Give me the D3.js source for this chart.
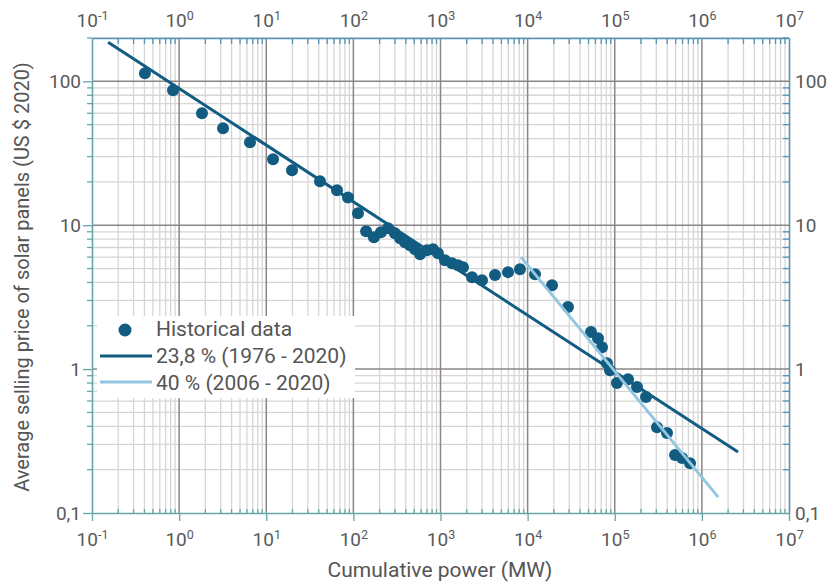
<!DOCTYPE html>
<html>
<head>
<meta charset="utf-8">
<script src="https://cdn.jsdelivr.net/npm/d3@7"></script>
<style>
body { margin: 0; background: #fff; }
svg { font-family: Roboto, "Noto Sans", sans-serif; }
</style>
</head>
<body>
<svg id="chart" width="832" height="583"></svg>
<script>
// historical data: cumulative power (MW) and price (US $ 2020 / W)
var power = [0.405, 0.851, 1.83, 3.19, 6.51, 11.96, 19.75, 41.4, 64.9, 86.7,
  113, 140, 172, 207, 250, 300, 343, 391, 447, 510,
  582, 700, 820, 935, 1125, 1355, 1588, 1812, 2300, 2995,
  4225, 5955, 8170, 12150, 19050, 29050, 53350, 64250, 71400, 81500,
  88200, 106000, 142000, 180000, 228500, 305500, 398000, 492000, 592000, 731000];
var price = [113.7, 86.6, 60.0, 47.2, 37.7, 28.7, 24.1, 20.2, 17.5, 15.6,
  12.1, 9.08, 8.26, 8.94, 9.53, 8.80, 8.12, 7.62, 7.26, 6.81,
  6.29, 6.70, 6.81, 6.39, 5.71, 5.45, 5.27, 5.11, 4.35, 4.15,
  4.50, 4.72, 4.95, 4.57, 3.83, 2.70, 1.81, 1.64, 1.42, 1.10,
  0.98, 0.80, 0.85, 0.75, 0.64, 0.395, 0.36, 0.253, 0.241, 0.222];

// fitted learning curves (end points)
var fitAllX = [0.153, 2.6e6];
var fitAllY = [187, 0.265];
var fitRecentX = [8400, 1.54e6];
var fitRecentY = [6.0, 0.129];

var legendLabels = ["Historical data", "23,8 % (1976 - 2020)", "40 % (2006 - 2020)"];

var xTicks = [1e-1, 1e0, 1e1, 1e2, 1e3, 1e4, 1e5, 1e6, 1e7];
var xExp = ["-1", "0", "1", "2", "3", "4", "5", "6", "7"];
var yTicks = [0.1, 1, 10, 100];
var yLabels = ["0,1", "1", "10", "100"];

var dark = "#125c82", light = "#93c6e1";
var axisTeal = "#67a6a6", axisBlue = "#5693b3";
var textCol = "#5a5a5a";

var svg = d3.select("#chart");
var x = d3.scaleLog().domain([0.1, 1e7]).range([92, 789]);
var y = d3.scaleLog().domain([0.1, 200]).range([513, 38]);

// minor tick values 2..9 for each decade
var xMinor = [], yMinor = [];
xTicks.slice(0, -1).forEach(function(t){ for (var k = 2; k < 10; k++) xMinor.push(t * k); });
[0.1, 1, 10, 100].forEach(function(t){ for (var k = 2; k < 10; k++) if (t * k <= 200) yMinor.push(t * k); });

// grid
var grid = svg.append("g");
grid.selectAll(".vmin").data(xMinor).enter().append("line")
  .attr("x1", d => x(d)).attr("x2", d => x(d)).attr("y1", y(200)).attr("y2", y(0.1))
  .attr("stroke", "#d6d6d6").attr("stroke-width", 1.3);
grid.selectAll(".hmin").data(yMinor).enter().append("line")
  .attr("y1", d => y(d)).attr("y2", d => y(d)).attr("x1", x(0.1)).attr("x2", x(1e7))
  .attr("stroke", "#d6d6d6").attr("stroke-width", 1.3);
grid.selectAll(".vmaj").data(xTicks.slice(1, -1)).enter().append("line")
  .attr("x1", d => x(d)).attr("x2", d => x(d)).attr("y1", y(200)).attr("y2", y(0.1))
  .attr("stroke", "#8c8587").attr("stroke-width", 1.5);
grid.selectAll(".hmaj").data([1, 10, 100]).enter().append("line")
  .attr("y1", d => y(d)).attr("y2", d => y(d)).attr("x1", x(0.1)).attr("x2", x(1e7))
  .attr("stroke", "#8c8587").attr("stroke-width", 1.5);

// axes
function supLabels(g, base) {
  g.selectAll(".tick").each(function(d, i){
    var t = d3.select(this).append("text").attr("text-anchor", "middle")
      .attr("y", base).attr("fill", textCol).style("font-size", "19px");
    t.append("tspan").text("10");
    t.append("tspan").text(xExp[i]).attr("dy", -7).style("font-size", "12.5px");
  });
}
function styleAxis(g, col) {
  g.select(".domain").attr("stroke", col).attr("stroke-width", 1.6);
  g.selectAll("line").attr("stroke", col).attr("stroke-width", 1.3);
}

var gBottom = svg.append("g").attr("transform", "translate(0," + y(0.1) + ")")
  .call(d3.axisBottom(x).tickValues(xTicks).tickFormat("").tickSize(8).tickSizeOuter(0));
gBottom.selectAll(".minor").data(xMinor).enter().append("line")
  .attr("x1", d => x(d)).attr("x2", d => x(d)).attr("y1", -4).attr("y2", 1);
styleAxis(gBottom, axisTeal);
supLabels(gBottom, 33);

var gTop = svg.append("g").attr("transform", "translate(0," + y(200) + ")")
  .call(d3.axisTop(x).tickValues(xTicks).tickFormat("").tickSize(0).tickSizeOuter(0));
gTop.selectAll(".minor").data(xMinor).enter().append("line")
  .attr("x1", d => x(d)).attr("x2", d => x(d)).attr("y1", 0).attr("y2", 6);
styleAxis(gTop, axisBlue);
supLabels(gTop, -11);

var gLeft = svg.append("g").attr("transform", "translate(" + x(0.1) + ",0)")
  .call(d3.axisLeft(y).tickValues(yTicks).tickFormat((d, i) => yLabels[i]).tickSize(9).tickSizeOuter(0));
gLeft.selectAll(".minor").data(yMinor).enter().append("line")
  .attr("y1", d => y(d)).attr("y2", d => y(d)).attr("x1", -5).attr("x2", 0);
styleAxis(gLeft, axisTeal);
gLeft.selectAll(".tick text").attr("x", -11);

var gRight = svg.append("g").attr("transform", "translate(" + x(1e7) + ",0)")
  .call(d3.axisRight(y).tickValues(yTicks).tickFormat((d, i) => yLabels[i]).tickSize(0).tickSizeOuter(0));
gRight.selectAll(".minor").data(yMinor).enter().append("line")
  .attr("y1", d => y(d)).attr("y2", d => y(d)).attr("x1", -6).attr("x2", 0);
styleAxis(gRight, axisBlue);
gRight.selectAll(".tick text").attr("x", 6);

svg.selectAll(".tick text").attr("fill", textCol).style("font-size", "19px")
  .style("font-family", "Roboto, sans-serif");
svg.selectAll(".tick tspan:nth-child(2)").style("font-size", "12.5px");

// fit 1976-2020
var line = d3.line().x(d => x(d[0])).y(d => y(d[1]));
svg.append("path").datum(d3.zip(fitAllX, fitAllY)).attr("d", line)
  .attr("stroke", dark).attr("stroke-width", 3).attr("fill", "none");

// historical points
svg.append("g").selectAll("circle").data(d3.zip(power, price)).enter().append("circle")
  .attr("cx", d => x(d[0])).attr("cy", d => y(d[1])).attr("r", 6).attr("fill", dark);

// fit 2006-2020
svg.append("path").datum(d3.zip(fitRecentX, fitRecentY)).attr("d", line)
  .attr("stroke", light).attr("stroke-width", 3).attr("fill", "none");

// legend
var lg = svg.append("g");
lg.append("rect").attr("x", 97).attr("y", 316).attr("width", 258).attr("height", 82).attr("fill", "#fff");
lg.append("circle").attr("cx", 125).attr("cy", 330).attr("r", 6.5).attr("fill", dark);
lg.append("line").attr("x1", 100).attr("x2", 152).attr("y1", 356).attr("y2", 356).attr("stroke", dark).attr("stroke-width", 3);
lg.append("line").attr("x1", 100).attr("x2", 152).attr("y1", 382).attr("y2", 382).attr("stroke", light).attr("stroke-width", 3);
lg.selectAll("text").data(legendLabels).enter().append("text")
  .attr("x", 156).attr("y", (d, i) => 336 + i * 27).text(d => d)
  .attr("fill", "#555").style("font-size", "21px");

// axis titles
svg.append("text").attr("x", 440).attr("y", 577).attr("text-anchor", "middle")
  .attr("fill", "#555").style("font-size", "21px").text("Cumulative power (MW)");
svg.append("text").attr("transform", "translate(29,277) rotate(-90)").attr("text-anchor", "middle")
  .attr("fill", "#555").style("font-size", "20px").text("Average selling price of solar panels (US $ 2020)");
</script>
</body>
</html>
